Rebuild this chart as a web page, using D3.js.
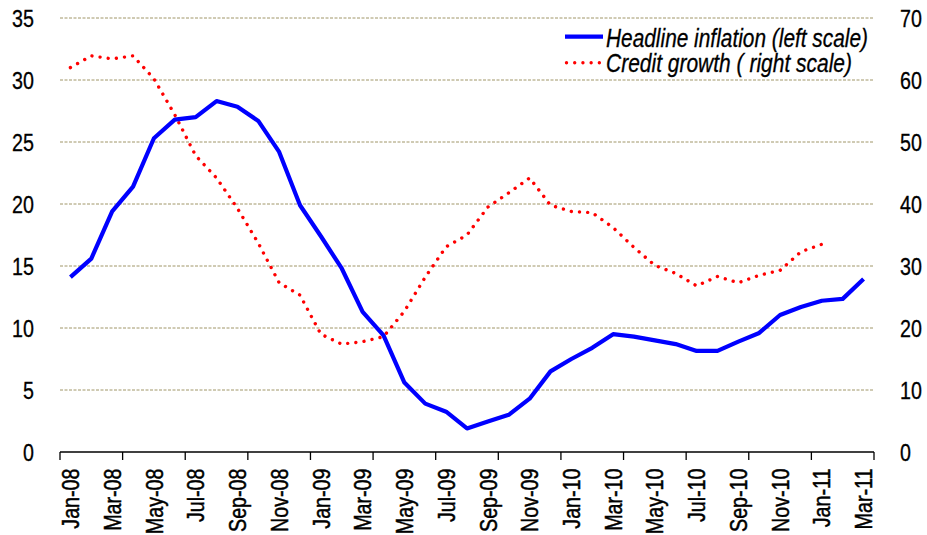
<!DOCTYPE html>
<html><head><meta charset="utf-8">
<script src="https://cdn.jsdelivr.net/npm/d3@7"></script>
<style>
body{margin:0;background:#fff}
svg{display:block}
text{font-family:"Liberation Sans",Arial,sans-serif;fill:#000}
</style>
</head><body><svg id="c" width="927" height="535"></svg>
<script>
const months = ["Jan-08","Feb-08","Mar-08","Apr-08","May-08","Jun-08","Jul-08","Aug-08","Sep-08","Oct-08","Nov-08","Dec-08",
"Jan-09","Feb-09","Mar-09","Apr-09","May-09","Jun-09","Jul-09","Aug-09","Sep-09","Oct-09","Nov-09","Dec-09",
"Jan-10","Feb-10","Mar-10","Apr-10","May-10","Jun-10","Jul-10","Aug-10","Sep-10","Oct-10","Nov-10","Dec-10",
"Jan-11","Feb-11","Mar-11"];
const inflation = [14.1,15.6,19.4,21.4,25.3,26.8,27.0,28.3,27.85,26.7,24.2,19.9,
17.4,14.8,11.3,9.4,5.6,3.9,3.25,1.9,2.45,3.0,4.3,6.5,
7.5,8.4,9.5,9.3,9.0,8.7,8.15,8.15,8.9,9.6,11.05,11.7,
12.2,12.35,13.95];
const credit = [62.0,63.9,63.4,63.9,60.2,54.4,47.8,44.2,39.3,33.7,27.3,25.3,
19.0,17.4,17.8,18.6,22.7,28.2,33.1,35.0,39.5,41.8,44.2,39.8,
38.8,38.6,36.2,33.0,30.1,28.8,26.8,28.3,27.3,28.5,29.3,32.3,
33.5,null,null];
const leftTicks = [0,5,10,15,20,25,30,35];
const rightTicks = [0,10,20,30,40,50,60,70];
const seriesNames = ["Headline inflation (left scale)","Credit growth ( right scale)"];

const svg = d3.select("#c");
const L = 60, R = 874, T = 18, B = 452;
const x = d3.scaleBand().domain(months).range([L, R]).padding(0);
const yL = d3.scaleLinear().domain([0,35]).range([B, T]);
const yR = d3.scaleLinear().domain([0,70]).range([B, T]);
const cx = d => x(d) + x.bandwidth()/2;

function narrow(sel, f) {
  sel.each(function(){
    const w = this.getComputedTextLength();
    this.setAttribute("textLength", (w*f).toFixed(2));
    this.setAttribute("lengthAdjust", "spacingAndGlyphs");
  });
}

// gridlines
svg.append("g").selectAll("line").data(leftTicks.filter(v=>v>0)).join("line")
  .attr("x1", L).attr("x2", R)
  .attr("y1", d=>yL(d)).attr("y2", d=>yL(d))
  .attr("stroke", "#a09668").attr("stroke-width", 1).attr("stroke-dasharray", "3,1.5");

// left axis labels
const gl = svg.append("g").attr("transform", `translate(${L},0)`)
  .call(d3.axisLeft(yL).tickValues(leftTicks).tickSize(0).tickPadding(26).tickFormat(d3.format("d")));
gl.select(".domain").remove();
gl.selectAll("text").attr("font-size", 24).attr("font-family", null).attr("dy", "0.36em")
  .attr("stroke", "#000").attr("stroke-width", 0.3);
narrow(gl.selectAll("text"), 0.82);

// right axis labels
const gr = svg.append("g").attr("transform", `translate(${R},0)`)
  .call(d3.axisRight(yR).tickValues(rightTicks).tickSize(0).tickPadding(26).tickFormat(d3.format("d")));
gr.select(".domain").remove();
gr.selectAll("text").attr("font-size", 24).attr("font-family", null).attr("dy", "0.36em")
  .attr("stroke", "#000").attr("stroke-width", 0.3);
narrow(gr.selectAll("text"), 0.82);

// x axis line + ticks
const tickVals = months.filter((m,i)=>i%3===0);
svg.append("g").selectAll("line").data(tickVals).join("line")
  .attr("x1", d=>x(d)).attr("x2", d=>x(d)).attr("y1", B).attr("y2", B+8)
  .attr("stroke", "#000").attr("stroke-width", 1.3);
svg.append("line").attr("x1", R).attr("x2", R).attr("y1", B).attr("y2", B+8)
  .attr("stroke", "#000").attr("stroke-width", 1.3);
svg.append("line").attr("x1", L).attr("x2", R).attr("y1", B).attr("y2", B)
  .attr("stroke", "#000").attr("stroke-width", 1.5);

// x labels
const gx = svg.append("g").attr("transform", `translate(0,${B})`)
  .call(d3.axisBottom(x).tickValues(months.filter((m,i)=>i%2===0)).tickSize(0).tickPadding(0));
gx.select(".domain").remove();
gx.selectAll("text").attr("font-size", 24).attr("font-family", null)
  .attr("text-anchor", "end")
  .attr("transform", "translate(0,16.5) rotate(-90)")
  .attr("y", 0).attr("x", 0).attr("dy", "0.36em")
  .attr("stroke", "#000").attr("stroke-width", 0.5);
narrow(gx.selectAll("text"), 0.82);

// lines
const lineL = d3.line().defined(d=>d[1]!=null).x(d=>cx(d[0])).y(d=>yL(d[1]));
const lineR = d3.line().defined(d=>d[1]!=null).x(d=>cx(d[0])).y(d=>yR(d[1]));
svg.append("path").datum(months.map((m,i)=>[m,credit[i]]))
  .attr("d", lineR).attr("fill","none").attr("stroke","#ff0000")
  .attr("stroke-width",3.4).attr("stroke-linecap","round").attr("stroke-dasharray","0.01 8.2");
svg.append("path").datum(months.map((m,i)=>[m,inflation[i]]))
  .attr("d", lineL).attr("fill","none").attr("stroke","#0000ff")
  .attr("stroke-width",4.2).attr("stroke-linejoin","round");

// legend
const lg = svg.append("g");
lg.append("line").attr("x1",565).attr("x2",603).attr("y1",36.7).attr("y2",36.7)
  .attr("stroke","#0000ff").attr("stroke-width",4.2);
lg.append("line").attr("x1",566.5).attr("x2",600).attr("y1",62.7).attr("y2",62.7)
  .attr("stroke","#ff0000").attr("stroke-width",3.4).attr("stroke-linecap","round").attr("stroke-dasharray","0.01 8.2");
lg.append("text").attr("x",606).attr("y",46.5).attr("font-size",25).attr("font-style","italic")
  .attr("stroke","#000").attr("stroke-width",0.3)
  .attr("textLength",262).attr("lengthAdjust","spacingAndGlyphs").text(seriesNames[0]);
lg.append("text").attr("x",606).attr("y",72).attr("font-size",25).attr("font-style","italic")
  .attr("stroke","#000").attr("stroke-width",0.3)
  .attr("textLength",246).attr("lengthAdjust","spacingAndGlyphs").text(seriesNames[1]);
</script>
</body></html>
